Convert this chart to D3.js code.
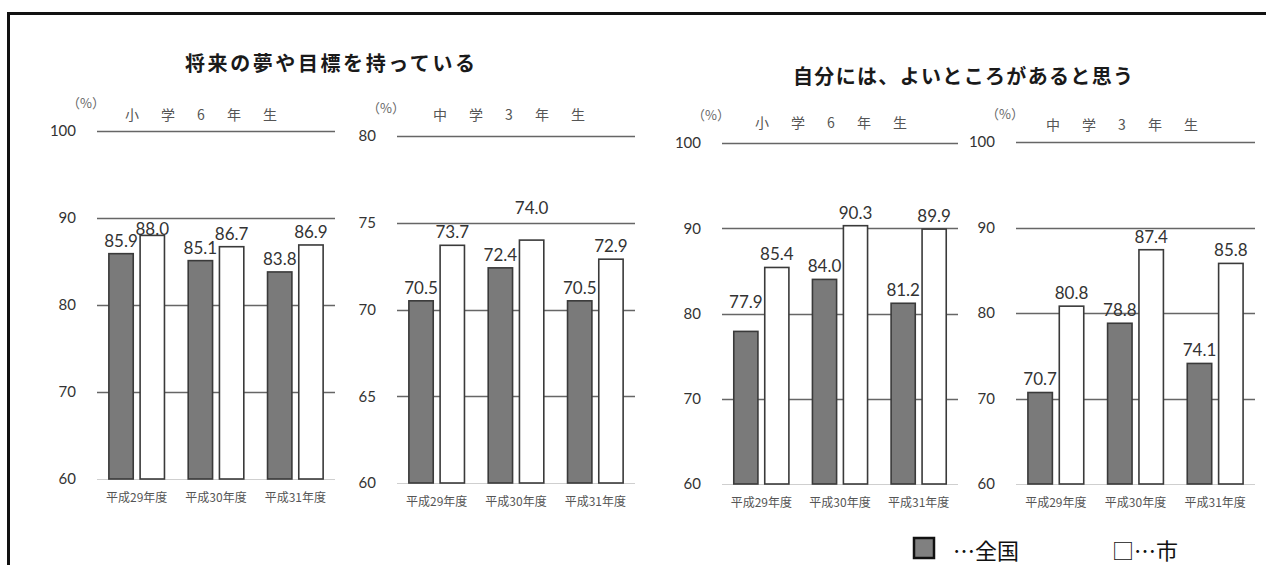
<!DOCTYPE html>
<html>
<head>
<meta charset="utf-8">
<script src="https://cdn.jsdelivr.net/npm/d3@7"></script>
<style>
  body { margin: 0; background: #fff; }
  svg { display: block; }
</style>
</head>
<body>
<div id="chart"></div>
<script>
// Data
const categories = ["平成29年度", "平成30年度", "平成31年度"];
const seriesNames = ["全国", "市"];
const chartTitles = ["将来の夢や目標を持っている", "自分には、よいところがあると思う"];
const gradeLabels = ["小 学 6 年 生", "中 学 3 年 生", "小 学 6 年 生", "中 学 3 年 生"];

const dreamElemNational = [85.9, 85.1, 83.8];
const dreamElemCity = [88.0, 86.7, 86.9];
const dreamJuniorNational = [70.5, 72.4, 70.5];
const dreamJuniorCity = [73.7, 74.0, 72.9];
const selfElemNational = [77.9, 84.0, 81.2];
const selfElemCity = [85.4, 90.3, 89.9];
const selfJuniorNational = [70.7, 78.8, 74.1];
const selfJuniorCity = [80.8, 87.4, 85.8];

const ticksTo100 = [60, 70, 80, 90, 100];
const ticksTo80 = [60, 65, 70, 75, 80];

const panelData = [
  { national: dreamElemNational, city: dreamElemCity, ticks: ticksTo100 },
  { national: dreamJuniorNational, city: dreamJuniorCity, ticks: ticksTo80 },
  { national: selfElemNational, city: selfElemCity, ticks: ticksTo100 },
  { national: selfJuniorNational, city: selfJuniorCity, ticks: ticksTo100 },
];

// layout of each small chart (plot box + subtitle offset)
const panelLayout = [
  { x0: 97, x1: 335, top: 131, bottom: 479, subX: 28, subY: -16 },
  { x0: 397, x1: 635, top: 136, bottom: 483, subX: 36, subY: -21 },
  { x0: 722, x1: 958, top: 143, bottom: 484, subX: 33, subY: -20 },
  { x0: 1016, x1: 1255, top: 142, bottom: 484, subX: 30, subY: -17 },
];

// a few value labels sit off their usual spot in the original
const labelNudge = { "1-1-1": -19, "2-0-0": -16, "0-1-0": 7 };

const width = 1266;
const height = 565;
const numFont = "Lato, 'Noto Sans', sans-serif";
const jpFont = "'Noto Sans CJK JP', 'Noto Sans', sans-serif";

const svg = d3
  .select("#chart")
  .append("svg")
  .attr("width", width)
  .attr("height", height);

// outer frame (runs off the right and bottom edges)
svg
  .append("rect")
  .attr("x", 8.5)
  .attr("y", 13.5)
  .attr("width", 1300)
  .attr("height", 600)
  .attr("fill", "none")
  .attr("stroke", "#111")
  .attr("stroke-width", 3);

// titles
svg
  .append("text")
  .attr("x", 185)
  .attr("y", 64)
  .attr("dy", "0.35em")
  .attr("textLength", 290)
  .attr("lengthAdjust", "spacing")
  .style("font-family", jpFont)
  .style("font-size", "20px")
  .style("font-weight", "bold")
  .style("fill", "#1a1a1a")
  .text(chartTitles[0]);

svg
  .append("text")
  .attr("x", 793)
  .attr("y", 77)
  .attr("dy", "0.35em")
  .attr("textLength", 340)
  .attr("lengthAdjust", "spacing")
  .style("font-family", jpFont)
  .style("font-size", "20px")
  .style("font-weight", "bold")
  .style("fill", "#1a1a1a")
  .text(chartTitles[1]);

panelData.forEach((pd, p) => {
  const lay = panelLayout[p];
  const g = svg.append("g");

  const y = d3
    .scaleLinear()
    .domain([pd.ticks[0], pd.ticks[pd.ticks.length - 1]])
    .range([lay.bottom, lay.top]);

  const x0 = d3.scaleBand().domain(categories).range([lay.x0, lay.x1]);
  const x1 = d3
    .scaleBand()
    .domain(seriesNames)
    .range([0, x0.bandwidth()])
    .paddingInner(0.22)
    .paddingOuter(0.38);

  // grid lines (the 60 baseline is lighter)
  g.selectAll(".grid")
    .data(pd.ticks)
    .join("line")
    .attr("x1", lay.x0)
    .attr("x2", lay.x1)
    .attr("y1", (d) => Math.round(y(d)) + 0.5)
    .attr("y2", (d) => Math.round(y(d)) + 0.5)
    .attr("stroke", (d, i) => (i === 0 ? "#cfcfcf" : "#666"))
    .attr("stroke-width", (d, i) => (i === 0 ? 1 : 1.6));

  // y tick labels
  g.selectAll(".ytick")
    .data(pd.ticks)
    .join("text")
    .attr("x", lay.x0 - 21)
    .attr("y", (d) => y(d))
    .attr("dy", "0.35em")
    .attr("text-anchor", "end")
    .style("font-family", numFont)
    .style("font-size", "15px")
    .style("fill", "#333")
    .text((d) => d);

  // (%) unit
  g.append("text")
    .attr("x", lay.x0 - 30)
    .attr("y", lay.top - 28)
    .attr("dy", "0.35em")
    .style("font-family", jpFont)
    .style("font-size", "13px")
    .style("fill", "#666")
    .text("（%）");

  // grade subtitle
  g.append("text")
    .attr("x", lay.x0 + lay.subX)
    .attr("y", lay.top + lay.subY)
    .attr("dy", "0.35em")
    .attr("textLength", 152)
    .attr("lengthAdjust", "spacing")
    .style("font-family", jpFont)
    .style("font-size", "14px")
    .style("fill", "#555")
    .text(gradeLabels[p]);

  // bars
  const rows = [];
  categories.forEach((c, i) => {
    rows.push({ cat: c, s: seriesNames[0], si: 0, i, v: pd.national[i] });
    rows.push({ cat: c, s: seriesNames[1], si: 1, i, v: pd.city[i] });
  });

  g.selectAll(".bar")
    .data(rows)
    .join("rect")
    .attr("x", (d) => x0(d.cat) + x1(d.s))
    .attr("y", (d) => y(d.v))
    .attr("width", x1.bandwidth())
    .attr("height", (d) => y.range()[0] - y(d.v))
    .attr("fill", (d) => (d.si === 0 ? "#7a7a7a" : "#fff"))
    .attr("stroke", "#3a3a3a")
    .attr("stroke-width", 1.6);

  // value labels
  g.selectAll(".val")
    .data(rows)
    .join("text")
    .attr("x", (d) => x0(d.cat) + x1(d.s) + x1.bandwidth() / 2)
    .attr("y", (d) => y(d.v) - 13 + (labelNudge[`${p}-${d.si}-${d.i}`] || 0))
    .attr("dy", "0.35em")
    .attr("text-anchor", "middle")
    .style("font-family", numFont)
    .style("font-size", "17px")
    .style("fill", "#333")
    .text((d) => d.v.toFixed(1));

  // category labels
  g.selectAll(".cat")
    .data(categories)
    .join("text")
    .attr("x", (d) => x0(d) + x0.bandwidth() / 2)
    .attr("y", lay.bottom + 19)
    .attr("dy", "0.35em")
    .attr("text-anchor", "middle")
    .style("font-family", jpFont)
    .style("font-size", "12px")
    .style("fill", "#555")
    .text((d) => d);
});

// legend
svg
  .append("rect")
  .attr("x", 914)
  .attr("y", 538)
  .attr("width", 20)
  .attr("height", 20)
  .attr("fill", "#808080")
  .attr("stroke", "#111")
  .attr("stroke-width", 2.5);

svg
  .append("text")
  .attr("x", 953)
  .attr("y", 551)
  .attr("dy", "0.35em")
  .style("font-family", jpFont)
  .style("font-size", "22px")
  .style("fill", "#111")
  .text("…" + seriesNames[0]);

svg
  .append("text")
  .attr("x", 1112)
  .attr("y", 551)
  .attr("dy", "0.35em")
  .style("font-family", jpFont)
  .style("font-size", "22px")
  .style("fill", "#111")
  .text("□…" + seriesNames[1]);
</script>
</body>
</html>
